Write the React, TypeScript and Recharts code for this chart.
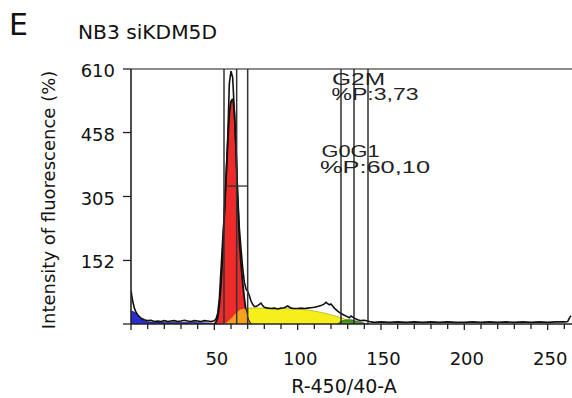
import React from 'react';
import { ComposedChart, Area, Line, XAxis, YAxis, ReferenceLine } from 'recharts';

// ---- data (x = R-450/40-A channel, y = intensity) ----
const debris: [number, number][] = [[0,30],[1,30],[2,28],[3,25],[4,21],[5,17],[6,13],[7,10],[8,8],[10,5],[14,4],[20,3],[30,3],[40,3],[48,2],[52,0]];
const g0g1: [number, number][] = [[50,0],[51,5],[52,15],[53,45],[54,95],[55,170],[56,260],[57,345],[58,430],[59,500],[60,532],[61,538],[62,505],[63,420],[64,300],[65,205],[66,145],[67,100],[68,62],[69,32],[70,14],[71,5],[72,0]];
const sPhase: [number, number][] = [[55,0],[56,1],[57,3],[58,6],[59,9],[60,13],[61,17],[62,22],[63,26],[64,30],[65,33],[66,35],[67,36],[68,37],[69,37],[70,38],[71,38],[72,38],[76,38],[80,38],[90,37],[100,36],[105,34],[110,31],[115,27],[120,22],[125,16],[128,12],[130,8],[133,4],[136,1],[138,0]];
const g2m: [number, number][] = [[124,0],[126,6],[128,9],[130,10],[132,10],[134,8],[136,6],[138,4],[140,2],[142,0]];
const histogram: [number, number][] = [[0,80],[1,55],[2,38],[3,28],[4,22],[5,18],[6,14],[7,12],[8,10],[10,8],[12,9],[14,6],[16,7],[18,6],[20,8],[22,6],[24,7],[26,8],[28,6],[30,7],[32,9],[34,7],[36,6],[38,8],[40,7],[42,6],[44,8],[46,7],[48,6],[50,8],[51,12],[52,25],[53,60],[54,130],[55,200],[56,265],[57,350],[58,440],[59,575],[60,605],[61,590],[62,510],[63,420],[64,310],[65,230],[66,180],[67,135],[68,100],[69,84],[70,78],[71,68],[72,55],[73,47],[74,42],[75,42],[76,44],[77,47],[78,50],[79,44],[80,40],[82,38],[84,37],[86,38],[88,36],[90,38],[92,39],[94,43],[96,38],[98,37],[100,37],[102,38],[104,37],[106,38],[108,39],[110,40],[112,42],[114,44],[116,48],[117,52],[118,49],[119,46],[120,48],[121,43],[122,38],[124,31],[126,25],[128,21],[130,17],[131,15],[132,19],[134,14],[136,10],[138,8],[140,9],[142,7],[144,5],[146,4],[150,5],[155,4],[160,5],[165,4],[170,5],[175,4],[180,5],[185,4],[190,5],[195,4],[200,4],[205,5],[210,4],[215,5],[220,4],[225,5],[230,4],[235,5],[240,4],[245,5],[250,4],[255,5],[260,5],[262,6],[263,14],[264,20]];

const g0g1Gates = [55.8, 63.4, 70];
const g2mGates = [126, 133.8, 142.2];
const gateBar = { from: 58, to: 70, level: 330 };
const yTicks = [0, 152, 305, 458, 610];
const xTicks = [0,10,20,30,40,50,60,70,80,90,100,110,120,130,140,150,160,170,180,190,200,210,220,230,240,250,260];

const annotations = [
  { text: 'G2M', dx: -9, dy: 15.5, w: 53 },
  { text: '%P:3,73', dx: -9.5, dy: 31, w: 87 },
  { text: 'G0G1', dx: -19.5, dy: 87.5, w: 58 },
  { text: '%P:60,10', dx: -21, dy: 103.5, w: 110 },
];

// ---- build table ----
const toMap = (arr: [number, number][]) => new Map(arr.map(([x, y]) => [x, y]));
const mDeb = toMap(debris), mRed = toMap(g0g1), mS = toMap(sPhase), mG2 = toMap(g2m), mRaw = toMap(histogram);
const allX = Array.from(new Set([...debris, ...g0g1, ...sPhase, ...g2m, ...histogram].map(p => p[0]))).sort((a, b) => a - b);
const table = allX.map(x => {
  const r = mRed.get(x), s = mS.get(x);
  return {
    x,
    debris: mDeb.has(x) ? mDeb.get(x) : null,
    red: r !== undefined ? r : null,
    s: s !== undefined ? s : null,
    overlap: r !== undefined && s !== undefined ? Math.min(r, s) : null,
    g2m: mG2.has(x) ? mG2.get(x) : null,
    raw: mRaw.has(x) ? mRaw.get(x) : null,
  };
});

const FONT = 'DejaVu Sans';

const XTick = (props: any) => {
  const { x, y, payload } = props;
  const v = payload.value;
  const major = v % 50 === 0;
  return (
    <g>
      <line x1={x} y1={y} x2={x} y2={y + (major ? 6 : 5)} stroke="#222" strokeWidth={1.3} />
      {major && v !== 0 && (
        <text x={x + 2.5} y={y + 41} textAnchor="middle" fontFamily={FONT} fontSize={18} fill="#111">{v}</text>
      )}
    </g>
  );
};

const YTick = (props: any) => {
  const { x, y, payload } = props;
  const v = payload.value;
  return (
    <g>
      <line x1={x - 8} y1={y} x2={x} y2={y} stroke="#222" strokeWidth={1.3} />
      {v !== 0 && (
        <text x={x - 16} y={y + 8} textAnchor="end" fontFamily={FONT} fontSize={18} fill="#111">{v}</text>
      )}
    </g>
  );
};

const AnnLabel = (props: any) => {
  const vb = props.viewBox || {};
  return (
    <g>
      {annotations.map(a => (
        <text key={a.text} x={vb.x + a.dx} y={vb.y + a.dy} fontFamily="Liberation Sans" fontSize={16} fill="#222"
          textLength={a.w} lengthAdjust="spacingAndGlyphs">{a.text}</text>
      ))}
    </g>
  );
};

const XLabel = (props: any) => {
  const vb = props.viewBox || {};
  return (
    <text x={vb.x + vb.width / 2 - 7.5} y={393} textAnchor="middle" fontFamily={FONT} fontSize={19} fill="#111">R-450/40-A</text>
  );
};

const YLabel = (props: any) => {
  const vb = props.viewBox || {};
  const cy = vb.y + vb.height / 2 + 3.5;
  return (
    <text x={55} y={cy} transform={`rotate(-90, 55, ${cy})`} textAnchor="middle" fontFamily={FONT} fontSize={18} fill="#111">
      Intensity of fluorescence (%)
    </text>
  );
};

export default function App() {
  return (
    <div style={{ position: 'absolute', left: 0, top: 0, width: 572, height: 398, background: '#fff', overflow: 'hidden' }}>
      <svg width={572} height={60} style={{ position: 'absolute', left: 0, top: 0 }}>
        <text x={9} y={35} fontFamily={FONT} fontSize={30} fill="#111">E</text>
        <text x={78} y={39} fontFamily={FONT} fontSize={19} fill="#111" textLength={139} lengthAdjust="spacingAndGlyphs">NB3 siKDM5D</text>
      </svg>
      <ComposedChart width={572} height={398} data={table} margin={{ top: 69, right: 0, bottom: 0, left: 0 }} style={{ position: 'absolute', left: 0, top: 0 }}>
        <XAxis dataKey="x" type="number" domain={[0, 264.6]} allowDataOverflow ticks={xTicks} interval={0}
          height={74} tickLine={false} tickSize={0} tickMargin={0} tick={<XTick />}
          axisLine={{ stroke: '#222', strokeWidth: 1.6 }} label={<XLabel />} />
        <YAxis type="number" domain={[0, 610]} ticks={yTicks} interval={0} width={131}
          tickLine={false} tickSize={0} tickMargin={0} tick={<YTick />}
          axisLine={{ stroke: '#222', strokeWidth: 1.6 }} label={<YLabel />} />
        <ReferenceLine y={610} stroke="#666" strokeWidth={1.5} />
        <Area dataKey="debris" type="linear" connectNulls fill="#2b2bd6" fillOpacity={1} stroke="#1a1a80" strokeWidth={1} isAnimationActive={false} />
        <Area dataKey="s" type="monotone" connectNulls fill="#f6ef1c" fillOpacity={1} stroke="#b8b020" strokeWidth={0.8} isAnimationActive={false} />
        <Area dataKey="red" type="monotone" connectNulls fill="#ee2a2a" fillOpacity={1} stroke="#111" strokeWidth={1.8} isAnimationActive={false} />
        <Area dataKey="overlap" type="monotone" connectNulls fill="#f7a21e" fillOpacity={1} stroke="none" isAnimationActive={false} />
        <Area dataKey="g2m" type="monotone" connectNulls fill="#3c8a1e" fillOpacity={0.9} stroke="#2a5a14" strokeWidth={0.8} isAnimationActive={false} />
        <Line dataKey="raw" type="linear" connectNulls stroke="#111" strokeWidth={1.6} dot={false} isAnimationActive={false} />
        {g0g1Gates.map(g => (
          <ReferenceLine key={'a' + g} x={g} stroke="#333" strokeWidth={1.5} />
        ))}
        <ReferenceLine segment={[{ x: gateBar.from, y: gateBar.level }, { x: gateBar.to, y: gateBar.level }]} stroke="#333" strokeWidth={1.3} />
        {g2mGates.map((g, i) => (
          <ReferenceLine key={'b' + g} x={g} stroke="#222" strokeWidth={1.4} label={i === 0 ? <AnnLabel /> : undefined} />
        ))}
      </ComposedChart>
    </div>
  );
}
